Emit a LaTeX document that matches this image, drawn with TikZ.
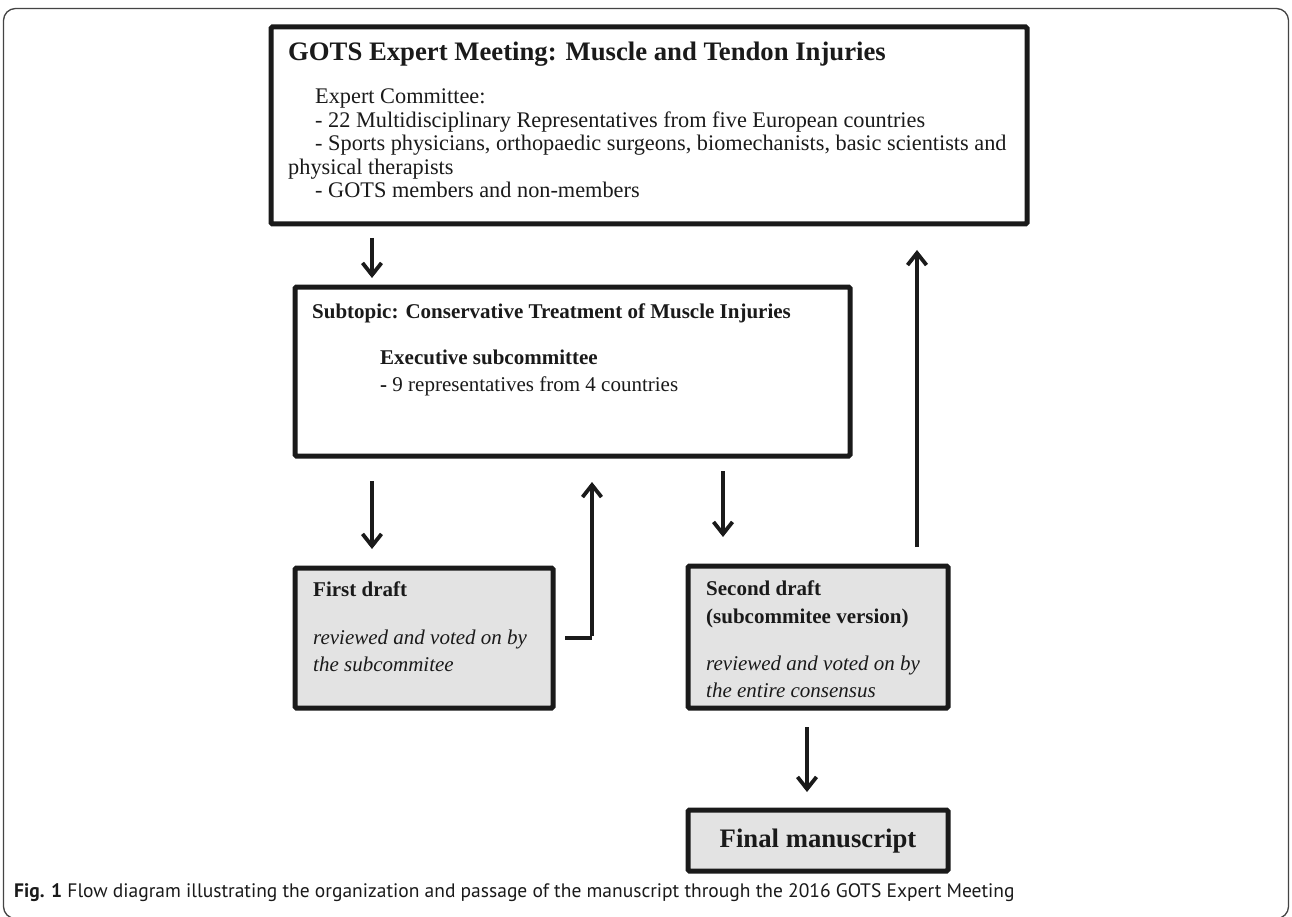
\documentclass[tikz,border=0pt]{standalone}
\usepackage{fontspec}
\setmainfont{Liberation Serif}
\newfontfamily\capfont{PT Sans}
\usetikzlibrary{arrows.meta,calc}
\definecolor{boxcol}{HTML}{1A1A1A}
\definecolor{shadecol}{HTML}{E3E3E3}
\definecolor{framecol}{HTML}{444444}
\begin{document}
\begin{tikzpicture}[x=1pt,y=-1pt,
  box/.style={draw=boxcol, line width=5pt, rounded corners=1.5pt, inner sep=0pt, outer sep=0pt, anchor=north west},
  plainbox/.style={box, fill=white},
  shadedbox/.style={box, fill=shadecol},
  txt/.style={anchor=base west, inner sep=0pt, text=boxcol},
  arr/.style={draw=boxcol, line width=3.8pt, -{Straight Barb[length=12pt,width=19pt]}},
  lnk/.style={draw=boxcol, line width=3.8pt},
  body/.style={font=\fontsize{22.3}{26}\selectfont},
  sm/.style={font=\fontsize{21}{25}\selectfont},
  smb/.style={font=\fontsize{21}{25}\selectfont\bfseries},
  smi/.style={font=\fontsize{21}{25}\selectfont\itshape},
  big/.style={font=\fontsize{26.7}{30}\selectfont\bfseries},
]
\useasboundingbox (0,0) rectangle (1292,917);
\fill[white] (0,0) rectangle (1292,917);
\draw[draw=framecol, line width=1.3pt, rounded corners=12pt] (3.5,8.5) rectangle (1288.5,918.5);

% boxes
\node[plainbox, minimum width=756pt, minimum height=197pt] (top) at (271,27) {};
\node[plainbox, minimum width=555pt, minimum height=169pt] (mid) at (295,287) {};
\node[shadedbox, minimum width=258pt, minimum height=140pt] (first) at (295,568) {};
\node[shadedbox, minimum width=260pt, minimum height=142pt] (second) at (688,566) {};
\node[shadedbox, minimum width=260pt, minimum height=61pt] (final) at (688,810) {};

% top box text
\node[txt, big] (t0) at (288,61) {GOTS Expert Meeting: Muscle and Tendon Injuries};
\node[txt, body] (t1) at (315,104) {Expert Committee:};
\node[txt, body] (t2) at (315,127.5) {- 22 Multidisciplinary Representatives from five European countries};
\node[txt, body] (t3) at (315,151) {- Sports physicians, orthopaedic surgeons, biomechanists, basic scientists and};
\node[txt, body] (t4) at (288,174.5) {physical therapists};
\node[txt, body] (t5) at (315,198) {- GOTS members and non-members};

% middle box text
\node[txt, smb] (m0) at (312,318) {Subtopic: Conservative Treatment of Muscle Injuries};
\node[txt, smb] (m1) at (380,364) {Executive subcommittee};
\node[txt, sm] (m2) at (380,391) {\textbf{-} 9 representatives from 4 countries};

% first draft text
\node[txt, smb] (f0) at (313,596) {First draft};
\node[txt, smi] (f1) at (313,644) {reviewed and voted on by};
\node[txt, smi] (f2) at (313,671) {the subcommitee};

% second draft text
\node[txt, smb] (s0) at (706,595) {Second draft};
\node[txt, smb] (s1) at (706,623) {(subcommitee version)};
\node[txt, smi] (s2) at (706,670) {reviewed and voted on by};
\node[txt, smi] (s3) at (706,697) {the entire consensus};

% final text
\node[anchor=base, inner sep=0pt, text=boxcol, big] (fm) at (818,847) {Final manuscript};

% caption
\node[anchor=base west, inner sep=0pt, text=boxcol, font=\capfont\fontsize{19.5}{22}\selectfont] (cap) at (14,897) {\textbf{Fig. 1} Flow diagram illustrating the organization and passage of the manuscript through the 2016 GOTS Expert Meeting};

% arrow x positions
\coordinate (xa) at (372,0);
\coordinate (xb) at (592,0);
\coordinate (xc) at (723,0);
\coordinate (xd) at (807,0);
\coordinate (xe) at (917,0);
\coordinate (lk) at (592,638);

\draw[arr, shorten <=14pt, shorten >=9pt] (top.south -| xa) -- (mid.north -| xa);
\draw[arr, shorten <=25pt, shorten >=19pt] (mid.south -| xa) -- (first.north -| xa);
\draw[arr, shorten <=15pt, shorten >=29pt] (mid.south -| xc) -- (second.north -| xc);
\draw[arr, shorten <=19pt, shorten >=18pt] (second.south -| xd) -- (final.north -| xd);
\draw[arr, shorten <=19pt, shorten >=26pt] (second.north -| xe) -- (top.south -| xe);
\draw[lnk] ([xshift=12pt]first.east |- lk) -- (lk);
\draw[arr, shorten >=26pt] ([yshift=1.9pt]lk) -- (mid.south -| xb);
\end{tikzpicture}
\end{document}
